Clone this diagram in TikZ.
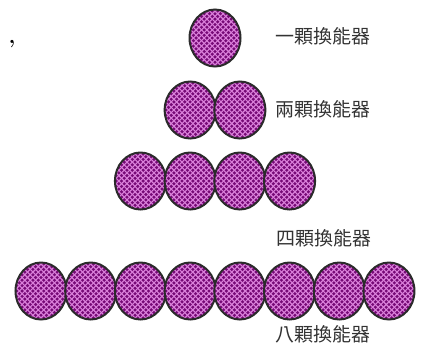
\documentclass[tikz,border=0pt]{standalone}
\usepackage{fontspec}
\newfontfamily\cjk{Noto Sans CJK TC}
\usetikzlibrary{shapes.geometric}
\definecolor{cellfill}{HTML}{760A76}
\definecolor{hatchcol}{HTML}{DA80DA}
\definecolor{rimcol}{HTML}{2B2B2B}
\definecolor{labelcol}{HTML}{333333}
\tikzset{
  hatch/.style={draw=hatchcol, line width=1.1pt},
  cell/.style={ellipse, minimum width=51pt, minimum height=57pt, inner sep=0pt,
    fill=cellfill, draw=rimcol, line width=2pt,
    path picture={
      \foreach \i in {-16,...,16} {
        \draw[hatch] (path picture bounding box.center) ++(\i*5.4-45,-45) -- ++(90,90);
        \draw[hatch] (path picture bounding box.center) ++(\i*5.4+45,-45) -- ++(-90,90);
      }
    }},
  lbl/.style={anchor=west, inner sep=0pt, text=labelcol, font=\cjk\fontsize{19}{19}\selectfont}
}
\begin{document}
\begin{tikzpicture}[x=1pt,y=-1pt]
\useasboundingbox (0,0) rectangle (422,349);
% one
\node[cell] (c1) at (215,38) {};
% two
\node[cell] (c2a) at (190.15,110) {};
\node[cell] (c2b) at (239.85,110) {};
% four
\foreach \k/\x in {1/140.45,2/190.15,3/239.85,4/289.55}
  \node[cell] (c4\k) at (\x,181) {};
% eight
\foreach \k/\x in {1/41,2/90.7,3/140.45,4/190.15,5/239.85,6/289.55,7/339.25,8/388.95}
  \node[cell] (c8\k) at (\x,291) {};
% labels
\node[lbl] (l1) at (275,36) {一顆換能器};
\node[lbl] (l2) at (275,109) {兩顆換能器};
\node[lbl] (l4) at (276,238) {四顆換能器};
\node[lbl] (l8) at (275,334) {八顆換能器};
% comma
\node[inner sep=0pt, font=\bfseries\fontsize{22}{22}\selectfont] (cm) at (12,44) {,};
\end{tikzpicture}
\end{document}
